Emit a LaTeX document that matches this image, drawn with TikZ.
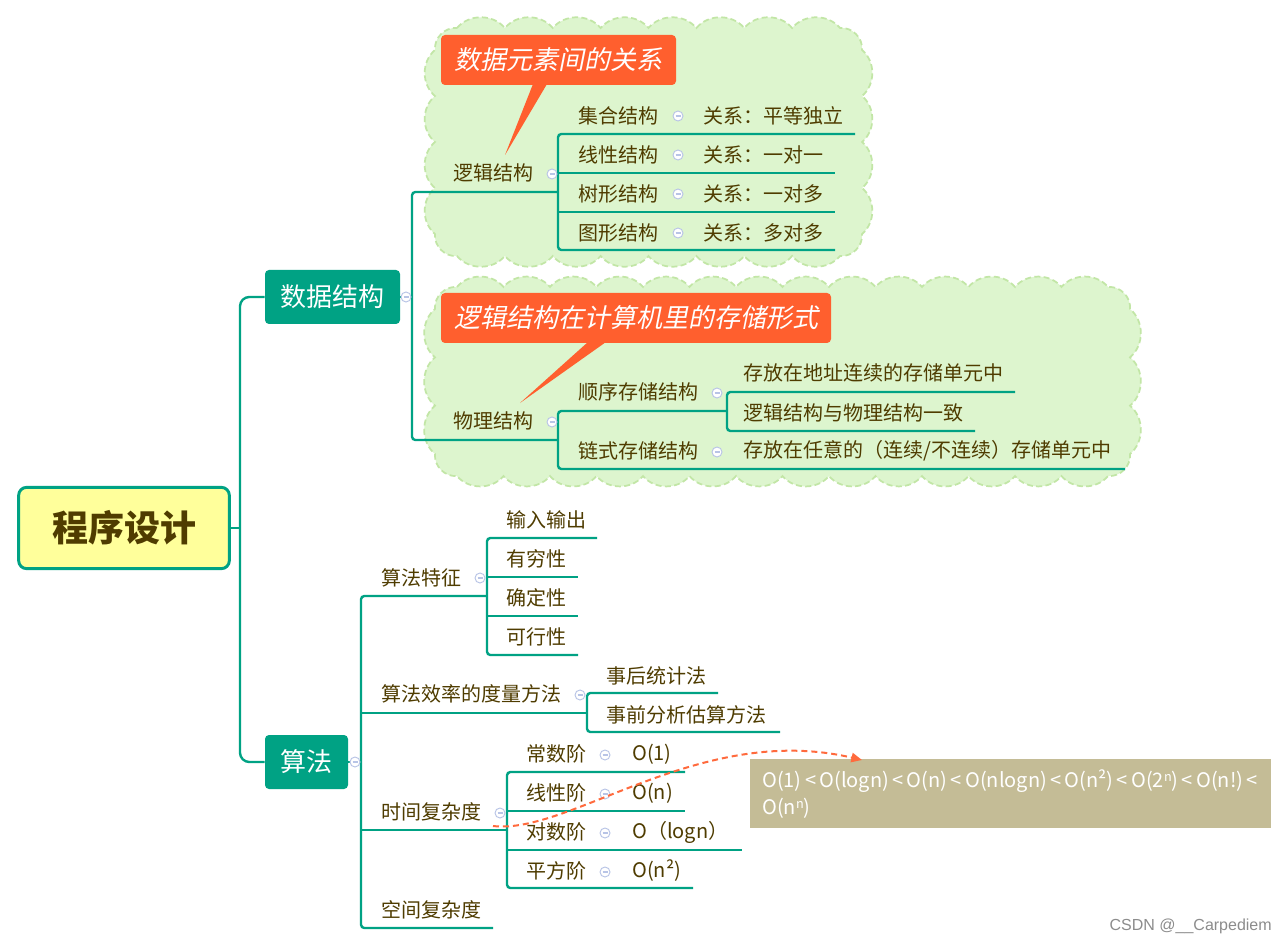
\documentclass[tikz,border=0pt]{standalone}
\usepackage{fontspec}
\setmainfont{Noto Sans CJK SC}
\newfontfamily\calloutfont{Noto Sans CJK SC}[FakeSlant=0.2]
\newfontfamily\wmfont{Liberation Sans}
\usetikzlibrary{arrows.meta,calc}
\definecolor{mmteal}{HTML}{00A284}
\definecolor{mmtext}{HTML}{4F3C00}
\definecolor{rootfill}{HTML}{FFFF9B}
\definecolor{cloudfill}{HTML}{DDF5CE}
\definecolor{cloudline}{HTML}{C2E6A6}
\definecolor{calloutc}{HTML}{FF5F2E}
\definecolor{cmpfill}{HTML}{C4BC96}
\definecolor{iconc}{HTML}{B8C4E6}
\definecolor{dashc}{HTML}{FF6A3D}
\definecolor{wmc}{HTML}{8C8C8C}
\newcommand\mmfs[1]{\fontsize{#1}{#1}\selectfont}
\newcommand\supn{\raisebox{0.55ex}{\mmfs{9.5}n}}
\newcommand\cloudbox[4]{%
  \pgfmathsetmacro\cldr{22}%
  \pgfmathtruncatemacro\cldnx{max(1,round((#3-#1-2*\cldr)/46))}%
  \pgfmathsetmacro\cldsx{(#3-#1-2*\cldr)/\cldnx}%
  \pgfmathtruncatemacro\cldny{max(1,round((#4-#2-2*\cldr)/46))}%
  \pgfmathsetmacro\cldsy{(#4-#2-2*\cldr)/\cldny}%
  \path[cloudsty] (#1+\cldr,#2)
    foreach \k in {1,...,\cldnx}{ to[bend left=50] ++(\cldsx,0) }
    to[bend left=50] ++(\cldr,\cldr)
    foreach \k in {1,...,\cldny}{ to[bend left=50] ++(0,\cldsy) }
    to[bend left=50] ++(-\cldr,\cldr)
    foreach \k in {1,...,\cldnx}{ to[bend left=50] ++(-\cldsx,0) }
    to[bend left=50] ++(-\cldr,-\cldr)
    foreach \k in {1,...,\cldny}{ to[bend left=50] ++(0,-\cldsy) }
    to[bend left=50] ++(\cldr,-\cldr) -- cycle;
}
\tikzset{
  cloudsty/.style={fill=cloudfill, draw=cloudline, line width=1.3pt, dash pattern=on 4.5pt off 2.5pt},
  lbl/.style={anchor=west, inner sep=0pt, text=mmtext, font=\mmfs{15}},
  lblc/.style={lbl, anchor=center},
  ln/.style={draw=mmteal, line width=1.8pt, rounded corners=2.5pt},
  topic/.style={fill=mmteal, rounded corners=3pt, text=white, font=\mmfs{19.5}, inner sep=0pt, minimum height=40.5pt},
  callout/.style={fill=calloutc, rounded corners=3pt, text=white, font=\calloutfont\mmfs{19.5}, inner sep=0pt, minimum height=37.5pt},
  icon/.pic={\draw[iconc, fill=white, line width=0.7pt] (0,0) circle[radius=5];
             \draw[iconc, line width=0.8pt] (-2.5,0) -- (2.5,0);},
  cmptxt/.style={anchor=west, inner sep=0pt, text=white, font=\mmfs{15}},
  dasharrow/.style={draw=dashc, line width=1.5pt, dash pattern=on 4.5pt off 3pt, -{Triangle[length=8pt,width=7pt]}}
}
\begin{document}
\begin{tikzpicture}[x=0.75pt,y=-0.75pt]
\useasboundingbox (0,0) rectangle (1287,944);
\fill[white] (0,0) rectangle (1287,944);

% clouds
\cloudbox{435}{28}{862}{256}
\cloudbox{435}{287}{1130}{476}

% callouts
\node[callout, minimum width=176.25pt] (co1) at (558.5,60) {数据元素间的关系};
\fill[calloutc] (533,84) -- (547,84) -- (505,155) -- cycle;
\node[callout, minimum width=292.5pt] (co2) at (636,318) {逻辑结构在计算机里的存储形式};
\fill[calloutc] (588,342) -- (606,342) -- (520,403) -- cycle;

% main topics
\node[draw=mmteal, line width=2.2pt, fill=rootfill, rounded corners=6pt, minimum width=158pt, minimum height=61pt, inner sep=0pt, text=mmtext, font=\bfseries\mmfs{27}] (root) at (124,528) {程序设计};
\node[topic, minimum width=101.25pt] (ds) at (332.5,297) {数据结构};
\node[topic, minimum width=62.25pt] (sf) at (306.5,762) {算法};

% connectors
\draw[ln] (root.east) -- (240,528);
\draw[ln, rounded corners=7pt] (ds.west) -- (240,297) -- (240,762) -- (sf.west);
\draw[ln] (ds.east) -- (412,297);
\draw[ln] (558,192) -- (412,192) -- (412,440) -- (558,440);
\draw[ln] (855,134) -- (558,134) -- (558,250) -- (835,250);
\draw[ln] (558,173) -- (835,173);
\draw[ln] (558,212) -- (835,212);
\draw[ln] (727,411) -- (558,411) -- (558,469) -- (1125,469);
\draw[ln] (1015,392) -- (727,392) -- (727,431) -- (975,431);
\draw[ln] (sf.east) -- (361,762);
\draw[ln] (487,596) -- (361,596) -- (361,928) -- (493,928);
\draw[ln] (361,713) -- (587,713);
\draw[ln] (361,830) -- (507,830);
\draw[ln] (597,538) -- (487,538) -- (487,655) -- (578,655);
\draw[ln] (487,577) -- (578,577);
\draw[ln] (487,616) -- (578,616);
\draw[ln] (718,693) -- (587,693) -- (587,732) -- (780,732);
\draw[ln] (685,772) -- (507,772) -- (507,888) -- (693,888);
\draw[ln] (507,811) -- (685,811);
\draw[ln] (507,850) -- (742,850);

% collapse icons
\foreach \p in {(406,297),(552,174),(678,116),(678,155),(678,194),(678,233),(552,422),(717,393),(717,452),(355,762),(480,578),(580,695),(500,813),(605,755),(605,794),(605,833),(605,872)}
  \pic at \p {icon};

% labels: data structures
\node[lblc] (lj) at (493,173) {逻辑结构};
\node[lblc] (a1) at (618,116) {集合结构};
\node[lbl] (a1r) at (703,116) {关系：平等独立};
\node[lblc] (a2) at (618,155) {线性结构};
\node[lbl] (a2r) at (703,155) {关系：一对一};
\node[lblc] (a3) at (618,194) {树形结构};
\node[lbl] (a3r) at (703,194) {关系：一对多};
\node[lblc] (a4) at (618,233) {图形结构};
\node[lbl] (a4r) at (703,233) {关系：多对多};
\node[lblc] (wl) at (493,421) {物理结构};
\node[lblc] (b1) at (638,392) {顺序存储结构};
\node[lbl] (b1a) at (743,373) {存放在地址连续的存储单元中};
\node[lbl] (b1b) at (743,413) {逻辑结构与物理结构一致};
\node[lblc] (b2) at (638,451) {链式存储结构};
\node[lbl] (b2a) at (743,451) {存放在任意的（连续/不连续）存储单元中};

% labels: algorithms
\node[lblc] (t1) at (421,578) {算法特征};
\node[lbl] (t1a) at (506,520) {输入输出};
\node[lbl] (t1b) at (506,559) {有穷性};
\node[lbl] (t1c) at (506,598) {确定性};
\node[lbl] (t1d) at (506,637) {可行性};
\node[lbl] (t2) at (381,694) {算法效率的度量方法};
\node[lbl] (t2a) at (606,676) {事后统计法};
\node[lbl] (t2b) at (606,715) {事前分析估算方法};
\node[lbl] (t3) at (381,812) {时间复杂度};
\node[lbl] (c1) at (526,754) {常数阶};
\node[lbl] (c1r) at (632,754) {O(1)};
\node[lbl] (c2) at (526,793) {线性阶};
\node[lbl] (c2r) at (632,793) {O(n)};
\node[lbl] (c3) at (526,832) {对数阶};
\node[lbl] (c3r) at (632,832) {O（logn）};
\node[lbl] (c4) at (526,871) {平方阶};
\node[lbl] (c4r) at (632,871) {O(n²)};
\node[lbl] (t4) at (381,910) {空间复杂度};

% complexity box
\node[fill=cmpfill, minimum width=390.75pt, minimum height=51.75pt, inner sep=0pt, anchor=north west] (cmp) at (750,759) {};
\node[cmptxt] (cmp1) at (762,781) {O(1)\,<\,O(logn)\,<\,O(n)\,<\,O(nlogn)\,<\,O(n²)\,<\,O(2\supn)\,<\,O(n!)\,<};
\node[cmptxt] (cmp2) at (762,808) {O(n\supn)};

% dashed relation
\coordinate (dstart) at (493,826);
\coordinate (dend) at ($(cmp.north west)+(112,1)$);
\draw[dasharrow] (dstart) .. controls (570,835) and (700,722) .. (dend);

% watermark
\node[anchor=east, inner sep=0pt, text=wmc, font=\wmfont\mmfs{12}] (wm) at (1272,926) {CSDN @\_\_Carpediem};
\end{tikzpicture}
\end{document}
